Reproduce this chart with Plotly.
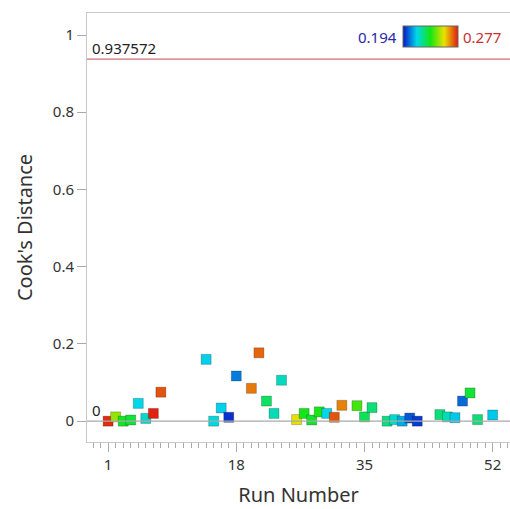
import plotly.graph_objects as go

run_number = [1, 2, 3, 4, 5, 6, 7, 8, 14, 15, 16, 17, 18, 20, 21, 22, 23, 24,
              26, 27, 28, 29, 30, 31, 32, 34, 35, 36, 38, 39, 40, 41, 42,
              45, 46, 47, 48, 49, 50, 52]
cooks_d = [0.000, 0.011, 0.000, 0.003, 0.046, 0.007, 0.020, 0.075, 0.160, 0.000,
           0.034, 0.010, 0.117, 0.085, 0.177, 0.052, 0.020, 0.106,
           0.004, 0.020, 0.003, 0.024, 0.020, 0.010, 0.041, 0.040, 0.011, 0.035,
           0.000, 0.004, 0.000, 0.008, 0.000,
           0.017, 0.011, 0.009, 0.052, 0.073, 0.004, 0.016]
color_value = [0.275, 0.248, 0.234, 0.232, 0.215, 0.218, 0.276, 0.271, 0.214, 0.216,
               0.214, 0.197, 0.205, 0.267, 0.269, 0.228, 0.220, 0.219,
               0.256, 0.235, 0.233, 0.236, 0.215, 0.271, 0.266, 0.240, 0.229, 0.226,
               0.225, 0.218, 0.210, 0.201, 0.198,
               0.226, 0.220, 0.213, 0.203, 0.232, 0.226, 0.213]
color_min, color_max = 0.194, 0.277
limit_value = 0.937572
x_tickvals = [1, 18, 35, 52]
y_tickvals = [0, 0.2, 0.4, 0.6, 0.8, 1]
y_ticktext = ["0", "0.2", "0.4", "0.6", "0.8", "1"]

FONT = "Noto Sans"
colorscale = [[0.0, "rgb(10,20,200)"], [0.25, "rgb(0,215,235)"], [0.5, "rgb(20,230,20)"],
              [0.75, "rgb(235,225,0)"], [1.0, "rgb(225,25,20)"]]

fig = go.Figure()
fig.add_trace(go.Scatter(
    x=run_number, y=cooks_d, mode="markers",
    marker=dict(symbol="square", size=10, color=color_value, cmin=color_min, cmax=color_max,
                colorscale=colorscale,
                line=dict(color="rgba(0,0,0,0.22)", width=1),
                colorbar=dict(orientation="h", lenmode="pixels", len=55, thickness=21,
                              x=0.811, xanchor="center", y=0.943, yanchor="middle",
                              showticklabels=False, ticks="", outlinewidth=1,
                              outlinecolor="#666", xpad=0, ypad=0)),
    showlegend=False, hoverinfo="x+y"))

fig.add_hline(y=limit_value, line=dict(color="rgb(205,110,115)", width=1.2))
fig.add_hline(y=0, line=dict(color="rgb(170,170,170)", width=1.2))

fig.add_annotation(x=0, xref="paper", xanchor="left", y=limit_value, yanchor="bottom",
                   text=f"{limit_value:g}", showarrow=False, xshift=3, yshift=-1,
                   font=dict(family=FONT, size=15, color="#222"))
fig.add_annotation(x=0, xref="paper", xanchor="left", y=0, yanchor="bottom",
                   text="0", showarrow=False, xshift=3, yshift=-1,
                   font=dict(family=FONT, size=15, color="#222"))
fig.add_annotation(x=0.811, xref="paper", y=0.943, yref="paper", xanchor="right",
                   yanchor="middle", text=f"{color_min:g}", showarrow=False, xshift=-31,
                   font=dict(family=FONT, size=15, color="rgb(40,40,170)"))
fig.add_annotation(x=0.811, xref="paper", y=0.943, yref="paper", xanchor="left",
                   yanchor="middle", text=f"{color_max:g}", showarrow=False, xshift=31,
                   font=dict(family=FONT, size=15, color="rgb(200,50,50)"))

fig.update_layout(
    width=510, height=509, margin=dict(l=87, r=0, t=13, b=67, autoexpand=False),
    plot_bgcolor="white", paper_bgcolor="white",
    font=dict(family=FONT, size=15, color="#333"),
    xaxis=dict(range=[-1.8, 54.3], tickvals=x_tickvals, ticks="outside", ticklen=9,
               tickcolor="#aaa", showgrid=False, zeroline=False, showline=True,
               linecolor="#c8c8c8", linewidth=1, mirror=True,
               minor=dict(dtick=1, tick0=1, ticks="outside", ticklen=5, tickcolor="#aaa",
                          showgrid=False),
               title=dict(text="Run Number", font=dict(size=20, color="#333"), standoff=14),
               tickfont=dict(size=15, color="#333")),
    yaxis=dict(range=[-0.054, 1.057], tickvals=y_tickvals, ticktext=y_ticktext,
               ticks="outside", ticklen=9, tickcolor="#aaa", showgrid=False,
               zeroline=False, showline=True, linecolor="#c8c8c8", linewidth=1,
               mirror=True,
               title=dict(text="Cook's Distance", font=dict(size=20, color="#333"), standoff=14),
               tickfont=dict(size=15, color="#333")),
)

fig.write_html("out.html", config={"displayModeBar": False},
               post_script="document.body.style.margin='0px';document.body.style.overflow='hidden';")
